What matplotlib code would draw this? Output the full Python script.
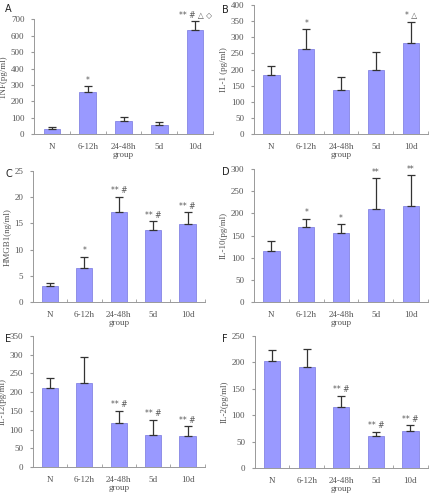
import numpy as np
import matplotlib
matplotlib.use('Agg')
import matplotlib.pyplot as plt

plt.rcParams['font.family'] = ['Liberation Serif', 'DejaVu Serif']

groups = ['N', '6-12h', '24-48h', '5d', '10d']

tnf = [34, 257, 83, 57, 634]
tnf_err = [10, 36, 24, 20, 56]
tnf_sig = ['', '*', '', '', '** # △ ◇']

il1 = [182, 264, 138, 200, 283]
il1_err = [30, 61, 38, 55, 65]
il1_sig = ['', '*', '', '', '* △']

hmgb1 = [3.0, 6.5, 17.2, 13.7, 14.9]
hmgb1_err = [0.7, 2.2, 2.9, 1.8, 2.3]
hmgb1_sig = ['', '*', '** #', '** #', '** #']

il10 = [115, 169, 156, 209, 217]
il10_err = [22, 19, 20, 71, 69]
il10_sig = ['', '*', '*', '**', '**']

il12 = [210, 224, 117, 85, 84]
il12_err = [27, 70, 34, 42, 26]
il12_sig = ['', '', '** #', '** #', '** #']

il2 = [202, 192, 116, 60, 70]
il2_err = [21, 33, 21, 9, 11]
il2_sig = ['', '', '** #', '** #', '** #']

panels = [
    ('A', tnf, tnf_err, tnf_sig, 'TNF(pg/ml)', 700, 100, [0.079, 0.730, 0.414, 0.231]),
    ('B', il1, il1_err, il1_sig, 'IL-1 (pg/ml)', 400, 50, [0.588, 0.730, 0.403, 0.260]),
    ('C', hmgb1, hmgb1_err, hmgb1_sig, 'HMGB1(ng/ml)', 25, 5, [0.076, 0.392, 0.398, 0.264]),
    ('D', il10, il10_err, il10_sig, 'IL-10(pg/ml)', 300, 50, [0.588, 0.392, 0.403, 0.268]),
    ('E', il12, il12_err, il12_sig, 'IL-12(pg/ml)', 350, 50, [0.076, 0.060, 0.398, 0.264]),
    ('F', il2, il2_err, il2_sig, 'IL-2(pg/ml)', 250, 50, [0.590, 0.058, 0.400, 0.266]),
]

fig = plt.figure(figsize=(4.32, 4.97), dpi=100)
tc = '#555555'

for letter, vals, errs, sig, ylab, ymax, step, rect in panels:
    ax = fig.add_axes(rect)
    x = np.arange(len(groups))
    ax.bar(x, vals, width=0.47, color='#9999ff', edgecolor='#7777dd', lw=0.5, zorder=2)
    ax.errorbar(x, vals, yerr=[np.zeros(len(vals)), errs], fmt='none',
                ecolor='#333333', elinewidth=0.9, capsize=3, capthick=0.9, zorder=3)
    for xi, v, e, s in zip(x, vals, errs, sig):
        if s:
            ax.text(xi, v + e + ymax * 0.01, s, ha='center', va='bottom',
                    fontsize=5.5, color=tc, family=['DejaVu Sans'])
    ax.set_xlim(-0.5, 4.5)
    ax.set_ylim(0, ymax)
    ax.set_yticks(np.arange(0, ymax + step / 2, step))
    ax.set_xticks(x)
    ax.set_xticklabels(groups)
    ax.set_xticks(np.arange(0.5, 4.6, 1), minor=True)
    ax.tick_params(axis='x', which='major', length=0, pad=6, labelsize=6.5, colors=tc)
    ax.tick_params(axis='x', which='minor', length=2, color='#999999', direction='in')
    ax.tick_params(axis='y', length=2, color='#999999', labelsize=6.5, labelcolor=tc, pad=5)
    ax.set_xlabel('group', fontsize=6.5, color=tc, labelpad=0)
    ax.set_ylabel(ylab, fontsize=6.5, color=tc, labelpad=2)
    for side in ['top', 'right']:
        ax.spines[side].set_visible(False)
    for side in ['left', 'bottom']:
        ax.spines[side].set_color('#999999')
        ax.spines[side].set_linewidth(0.7)

letter_pos = {'A': (5, 9), 'B': (222, 10), 'C': (5, 174), 'D': (222, 172), 'E': (5, 339), 'F': (222, 339)}
for k, (px, py) in letter_pos.items():
    fig.text(px / 432, 1 - py / 497, k, fontsize=7, family=['DejaVu Sans'], va='center', color='#222222')

plt.savefig('out.png', dpi=100)
plt.close()
